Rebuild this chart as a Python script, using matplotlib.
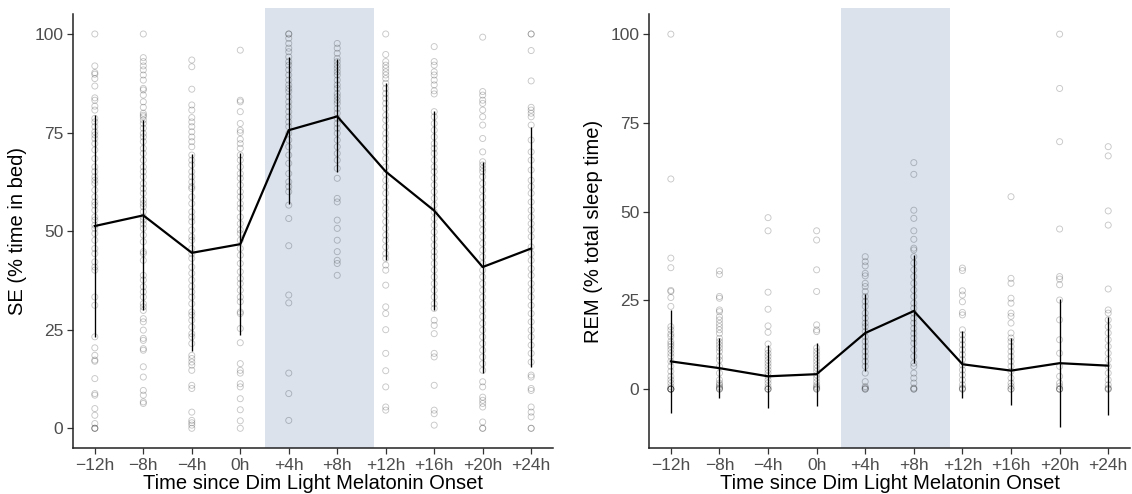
import matplotlib
matplotlib.use("Agg")
import matplotlib.pyplot as plt

plt.rcParams['font.family'] = ['Liberation Sans', 'DejaVu Sans']

# time points (hours since DLMO)
hours = [-12, -8, -4, 0, 4, 8, 12, 16, 20, 24]
tick_labels = ['\u221212h', '\u22128h', '\u22124h', '0h', '+4h', '+8h', '+12h', '+16h', '+20h', '+24h']

# ---- sleep efficiency (% time in bed) ----
se_mean = [51.3, 54.0, 44.5, 46.7, 75.6, 79.1, 65.1, 55.2, 40.9, 45.6]
se_lo = [23.2, 30.0, 19.5, 23.6, 57.0, 65.1, 42.6, 29.9, 13.9, 15.6]
se_hi = [79.4, 78.2, 69.5, 69.7, 94.2, 93.6, 87.5, 80.5, 67.6, 76.5]

se_m12 = [100, 91.9, 90.2, 89.8, 88.7, 86.8, 83.8, 83.2, 81.7, 80.7, 78.6, 77.7, 76.5, 75.2, 74.4,
          73.5, 72.2, 70.6, 68.4, 66.3, 65.1, 63.8, 62.9, 62.1, 60.4, 58.7, 57.4, 56.6, 55.3, 53.6,
          52.8, 51.5, 50.7, 49.4, 47.7, 45.6, 44.3, 42.2, 40.9, 40.1, 33.3, 31.2, 23.2, 20.4, 18.5,
          17.3, 17.0, 12.6, 8.8, 8.4, 5.0, 3.3, 1.2, 0, 0, 0]
se_m8 = [100, 94.0, 93.0, 91.9, 90.9, 89.6, 88.3, 86.2, 85.8, 84.5, 82.8, 81.4, 79.9, 79.4, 79.0,
         78.2, 77.3, 76.1, 74.8, 73.9, 72.7, 71.0, 69.7, 68.0, 66.3, 65.1, 63.8, 62.1, 60.8, 59.6,
         57.9, 57.0, 56.2, 54.9, 53.6, 52.8, 51.8, 50.7, 49.0, 47.3, 44.8, 44.3, 42.6, 38.8, 37.6,
         35.9, 34.6, 33.3, 31.6, 30.8, 29.9, 27.8, 27.0, 24.9, 22.8, 22.3, 20.2, 19.8, 15.6, 13.0,
         9.6, 8.4, 6.7, 6.3]
se_m4 = [93.4, 91.7, 86.0, 82.0, 80.7, 78.8, 77.7, 76.5, 75.2, 73.9, 72.7, 71.4, 69.3, 68.0, 66.8,
         65.1, 63.8, 62.5, 61.3, 60.8, 58.7, 57.0, 54.9, 53.6, 52.4, 50.3, 48.6, 47.7, 45.6, 44.3,
         43.1, 40.9, 39.3, 37.6, 36.0, 34.6, 33.3, 31.6, 29.5, 28.7, 27.4, 25.7, 24.0, 23.2, 21.5,
         18.5, 17.7, 16.8, 16.0, 14.7, 10.9, 10.1, 4.1, 2.0, 1.4, 0.8, 0]
se_0 = [95.9, 83.2, 82.8, 80.3, 77.3, 75.6, 75.0, 73.3, 72.2, 71.0, 69.3, 68.0, 66.3, 64.6, 63.4,
        61.7, 60.0, 58.7, 57.0, 55.8, 53.6, 51.9, 50.3, 49.4, 47.7, 45.6, 43.9, 41.8, 39.7, 38.0,
        36.7, 35.0, 33.3, 32.1, 29.5, 29.1, 25.3, 21.7, 16.4, 14.7, 14.0, 11.3, 10.5, 7.5, 4.7,
        1.9, 0]
se_p4 = [100, 100, 98.9, 97.6, 96.4, 95.5, 94.2, 93.0, 92.1, 90.9, 89.6, 88.3, 87.1, 86.2, 85.4,
         84.1, 82.8, 81.6, 80.3, 79.0, 77.7, 76.5, 74.8, 73.1, 71.4, 69.3, 67.2, 64.6, 62.5, 61.3,
         60.0, 56.6, 53.2, 46.3, 33.8, 31.8, 14.0, 8.8, 2.0]
se_p8 = [97.6, 96.4, 95.1, 93.8, 93.0, 92.1, 91.3, 90.4, 89.6, 88.3, 87.1, 86.2, 84.9, 84.1, 83.2,
         82.4, 81.1, 79.9, 78.6, 77.3, 76.1, 74.8, 73.1, 71.4, 69.7, 68.0, 65.9, 63.4, 58.3, 57.4,
         52.8, 50.7, 47.7, 44.8, 42.6, 41.8, 38.8]
se_p12 = [100, 94.8, 93.0, 92.1, 91.3, 90.4, 89.6, 88.7, 87.5, 86.2, 84.9, 83.7, 82.4, 81.1, 79.4,
          78.2, 76.5, 74.8, 73.5, 71.8, 70.1, 68.4, 66.3, 64.6, 62.9, 61.3, 59.6, 57.4, 55.8, 54.1,
          52.4, 50.7, 49.0, 47.7, 46.0, 44.3, 43.1, 41.4, 40.1, 36.3, 30.8, 29.1, 25.0, 19.0, 14.6,
          10.5, 5.4, 4.6]
se_p16 = [96.8, 93.0, 92.1, 90.4, 89.6, 88.3, 87.1, 85.6, 84.8, 80.3, 79.0, 77.3, 75.6, 73.9, 72.2,
          71.0, 69.7, 68.0, 66.3, 65.1, 63.4, 61.7, 60.0, 58.3, 56.6, 54.9, 53.2, 51.5, 49.8, 48.1,
          46.4, 44.8, 43.5, 41.8, 40.1, 38.4, 36.7, 35.0, 33.3, 31.6, 30.4, 27.4, 26.1, 24.0, 19.0,
          18.1, 10.9, 4.6, 3.7, 0.8]
se_p20 = [99.2, 85.4, 84.5, 83.2, 82.4, 80.7, 79.0, 76.9, 73.5, 70.1, 67.6, 66.8, 65.9, 65.1, 63.8,
          62.1, 60.4, 58.7, 57.0, 55.3, 53.6, 51.9, 50.3, 48.6, 46.9, 45.2, 43.5, 41.8, 40.1, 38.4,
          36.7, 35.0, 33.3, 31.6, 29.9, 28.3, 26.6, 24.9, 23.2, 21.5, 19.8, 18.1, 16.4, 14.7, 11.8,
          10.5, 7.9, 7.1, 6.3, 5.4, 1.6, 0, 0]
se_p24 = [100, 100, 95.8, 88.1, 81.4, 80.7, 79.9, 79.0, 76.9, 73.1, 70.1, 68.0, 65.5, 62.9, 61.3,
          59.6, 57.4, 55.3, 53.6, 51.9, 50.3, 48.6, 46.0, 44.3, 42.6, 40.5, 38.8, 36.7, 35.0, 33.3,
          31.2, 29.1, 27.0, 24.9, 23.2, 21.1, 19.0, 16.8, 13.5, 13.0, 10.1, 9.6, 5.4, 4.1, 2.9, 0, 0]
se_points = [se_m12, se_m8, se_m4, se_0, se_p4, se_p8, se_p12, se_p16, se_p20, se_p24]

# ---- REM (% total sleep time) ----
rem_mean = [7.8, 5.9, 3.6, 4.2, 15.8, 22.0, 7.0, 5.2, 7.3, 6.6]
rem_lo = [-6.7, -2.5, -5.2, -4.7, 5.0, 7.3, -2.5, -4.4, -10.8, -7.2]
rem_hi = [22.2, 14.4, 12.4, 12.9, 26.8, 37.8, 16.4, 14.4, 25.3, 20.3]

rem_m12 = [100, 59.2, 36.9, 34.2, 27.8, 27.5, 25.8, 23.3, 17.6, 16.7, 15.5, 14.8, 13.4, 12.7, 12.0,
           11.1, 10.1, 9.2, 7.8, 6.4, 5.0, 3.6, 2.6, 1.7, 0.7, 0, 0, 0, 0, 0]
rem_m8 = [33.3, 32.3, 26.1, 25.6, 22.3, 21.8, 20.4, 19.5, 18.5, 17.6, 16.7, 15.7, 14.3, 13.4, 12.5,
          11.6, 10.6, 9.2, 8.2, 6.4, 4.5, 2.6, 1.7, 1.2, 0.7, 0.3, 0, 0]
rem_m4 = [48.3, 44.6, 27.3, 22.5, 17.8, 16.0, 12.7, 11.1, 10.1, 9.2, 8.2, 7.3, 6.4, 5.4, 4.5,
          3.6, 2.6, 1.7, 0.7, 0, 0, 0]
rem_0 = [44.6, 42.0, 33.6, 27.5, 18.1, 16.7, 16.2, 11.6, 10.6, 9.7, 8.7, 7.8, 6.8, 5.9, 5.0,
         4.0, 3.1, 2.1, 1.2, 0.7, 0.3, 0, 0]
rem_p4 = [37.3, 35.9, 34.7, 32.6, 31.9, 29.8, 28.9, 27.5, 26.1, 24.7, 23.3, 21.4, 20.0, 18.6, 17.6,
          16.2, 14.8, 13.4, 12.0, 10.6, 9.2, 7.8, 6.4, 4.5, 2.1, 0.7, 0.3, 0, 0]
rem_p8 = [63.8, 60.5, 50.4, 48.1, 44.6, 42.2, 39.7, 39.2, 37.3, 35.5, 33.6, 31.7, 29.8, 27.9, 26.1,
          24.2, 22.8, 21.4, 20.0, 18.6, 17.1, 15.7, 14.3, 12.9, 11.1, 9.2, 7.3, 6.4, 4.5, 3.1,
          1.7, 0.3, 0, 0]
rem_p12 = [34.1, 33.4, 27.7, 26.5, 24.6, 21.6, 20.9, 16.7, 15.3, 13.9, 12.5, 11.1, 9.7, 8.3, 6.8,
           5.4, 4.0, 2.6, 1.2, 0.3, 0, 0]
rem_p16 = [54.2, 31.2, 29.8, 25.6, 24.2, 21.4, 20.5, 18.6, 15.8, 14.4, 13.4, 12.0, 10.6, 9.2, 7.8,
           6.4, 5.0, 3.1, 1.7, 0.8, 0, 0]
rem_p20 = [100, 84.7, 69.7, 45.1, 31.7, 31.0, 29.4, 25.1, 19.5, 13.9, 10.1, 6.4, 3.6, 1.7, 0.8,
           0, 0, 0]
rem_p24 = [68.3, 65.7, 50.2, 46.2, 28.2, 22.3, 21.4, 19.5, 17.6, 15.8, 13.9, 12.0, 10.1, 8.3, 6.4,
           4.5, 2.6, 1.2, 0.3, 0, 0]
rem_points = [rem_m12, rem_m8, rem_m4, rem_0, rem_p4, rem_p8, rem_p12, rem_p16, rem_p20, rem_p24]

# window of the shaded band (hours)
band = (2, 11)


def draw_panel(ax, points, mean, lo, hi, ylim, ylabel):
    ax.axvspan(band[0], band[1], ymin=0, ymax=1.014, color='#dbe2ec', lw=0, clip_on=False, zorder=0)
    for h, vals in zip(hours, points):
        ax.scatter([h] * len(vals), vals, s=19, facecolors='none', edgecolors='black',
                   linewidths=0.65, alpha=0.22, zorder=2)
    ax.vlines(hours, lo, hi, color='black', lw=0.95, zorder=3)
    ax.plot(hours, mean, color='black', lw=1.6, zorder=4)

    ax.set_xlim(-13.8, 25.8)
    ax.set_ylim(*ylim)
    ax.set_xticks(hours)
    ax.set_xticklabels(tick_labels)
    ax.set_yticks([0, 25, 50, 75, 100])
    ax.tick_params(labelsize=12.5, labelcolor='#4d4d4d', color='#333333', length=4, width=0.9, pad=3)
    for side in ['top', 'right']:
        ax.spines[side].set_visible(False)
    for side in ['left', 'bottom']:
        ax.spines[side].set_linewidth(1.1)
        ax.spines[side].set_color('#222222')
    ax.set_xlabel('Time since Dim Light Melatonin Onset', fontsize=14.5, labelpad=1)
    ax.set_ylabel(ylabel, fontsize=14.5, labelpad=5)
    ax.set_facecolor('none')


fig = plt.figure(figsize=(11.32, 4.94), dpi=100)
ax1 = fig.add_axes([0.0645, 0.0931, 0.424, 0.878])
ax2 = fig.add_axes([0.5733, 0.0931, 0.425, 0.878])

draw_panel(ax1, se_points, se_mean, se_lo, se_hi, (-5, 105), 'SE (% time in bed)')
draw_panel(ax2, rem_points, rem_mean, rem_lo, rem_hi, (-16.6, 105.6), 'REM (% total sleep time)')

fig.savefig('out.png', dpi=100)
